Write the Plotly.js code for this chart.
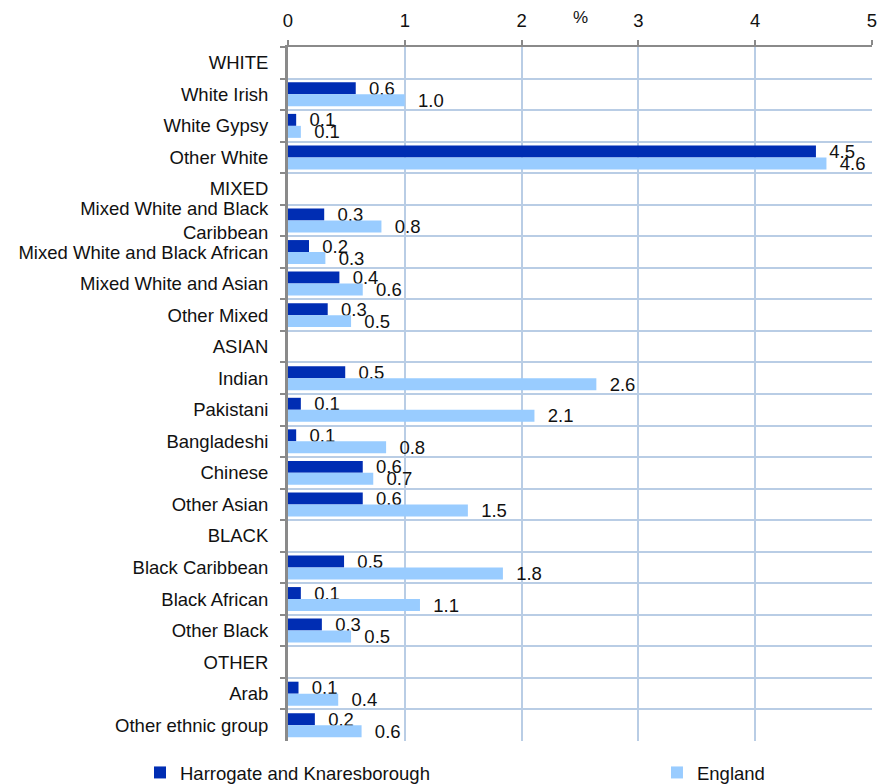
<!DOCTYPE html>
<html>
<head>
<meta charset="utf-8">
<script src="https://cdn.plot.ly/plotly-3.0.1.min.js"></script>
<style>html,body{margin:0;padding:0;background:#fff;}#chart{width:877px;height:784px;}</style>
</head>
<body>
<div id="chart"></div>
<script>
var categories = [
  "WHITE", "White Irish", "White Gypsy", "Other White",
  "MIXED", "Mixed White and Black<br>Caribbean", "Mixed White and Black African", "Mixed White and Asian", "Other Mixed",
  "ASIAN", "Indian", "Pakistani", "Bangladeshi", "Chinese", "Other Asian",
  "BLACK", "Black Caribbean", "Black African", "Other Black",
  "OTHER", "Arab", "Other ethnic group"
];
var harrogate = [
  null, 0.58, 0.07, 4.52,
  null, 0.31, 0.18, 0.44, 0.34,
  null, 0.49, 0.11, 0.07, 0.64, 0.64,
  null, 0.48, 0.11, 0.29,
  null, 0.09, 0.23
];
var england = [
  null, 1.00, 0.11, 4.61,
  null, 0.80, 0.32, 0.64, 0.54,
  null, 2.64, 2.11, 0.84, 0.73, 1.54,
  null, 1.84, 1.13, 0.54,
  null, 0.43, 0.63
];
var seriesNames = ["Harrogate and Knaresborough", "England"];
var xTicks = [0, 1, 2, 3, 4, 5];

var FONT = "Liberation Sans, Arial, sans-serif";
var labelTpl = "\u00a0\u00a0%{x:.1f}";

var traces = [
  {
    type: "bar", orientation: "h", name: seriesNames[0], legend: "legend",
    y: categories, x: harrogate,
    marker: {color: "#002DB3"},
    texttemplate: labelTpl, textposition: "outside", constraintext: "none",
    cliponaxis: false,
    textfont: {family: FONT, size: 18.5, color: "#111"},
    hoverinfo: "x+y"
  },
  {
    type: "bar", orientation: "h", name: seriesNames[1], legend: "legend2",
    y: categories, x: england,
    marker: {color: "#99CCFF"},
    texttemplate: labelTpl, textposition: "outside", constraintext: "none",
    cliponaxis: false,
    textfont: {family: FONT, size: 18.5, color: "#111"},
    hoverinfo: "x+y"
  }
];

var legendFont = {family: FONT, size: 18.5, color: "#111"};
var layout = {
  width: 877, height: 784,
  margin: {l: 288, r: 5, t: 47, b: 43, autoexpand: false},
  paper_bgcolor: "#ffffff", plot_bgcolor: "#ffffff",
  font: {family: FONT, size: 18.5, color: "#111"},
  barmode: "group", bargap: 0.24, bargroupgap: 0,
  showlegend: true,
  legend: {
    orientation: "h", xref: "paper", yref: "paper",
    x: -0.2534, xanchor: "left", y: -0.046, yanchor: "middle",
    font: legendFont, bgcolor: "rgba(0,0,0,0)"
  },
  legend2: {
    orientation: "h", xref: "paper", yref: "paper",
    x: 0.6318, xanchor: "left", y: -0.046, yanchor: "middle",
    font: legendFont, bgcolor: "rgba(0,0,0,0)"
  },
  xaxis: {
    side: "top", range: [0, 5], tickvals: xTicks, ticktext: xTicks.map(String),
    ticks: "outside", ticklen: 5, tickwidth: 2, tickcolor: "#8a8a8a",
    showline: true, linecolor: "#8a8a8a", linewidth: 2,
    showgrid: true, gridcolor: "#B9CDE5", gridwidth: 2,
    zeroline: false, ticklabeloverflow: "allow",
    tickfont: {family: FONT, size: 18.5, color: "#111"},
    ticklabelstandoff: 6
  },
  yaxis: {
    type: "category", autorange: "reversed",
    tickson: "boundaries", ticks: "outside", ticklen: 5, tickwidth: 2, tickcolor: "#8a8a8a",
    showline: true, linecolor: "#8a8a8a", linewidth: 3,
    showgrid: true, gridcolor: "#B9CDE5", gridwidth: 2,
    tickfont: {family: FONT, size: 18.5, color: "#111"},
    ticklabelstandoff: 13
  },
  annotations: [{
    text: "%", xref: "paper", yref: "paper", x: 0.5, y: 1.043,
    xanchor: "center", yanchor: "middle", showarrow: false,
    font: {family: FONT, size: 17, color: "#111"}
  }]
};

Plotly.newPlot("chart", traces, layout, {displayModeBar: false, responsive: false});
</script>
</body>
</html>
